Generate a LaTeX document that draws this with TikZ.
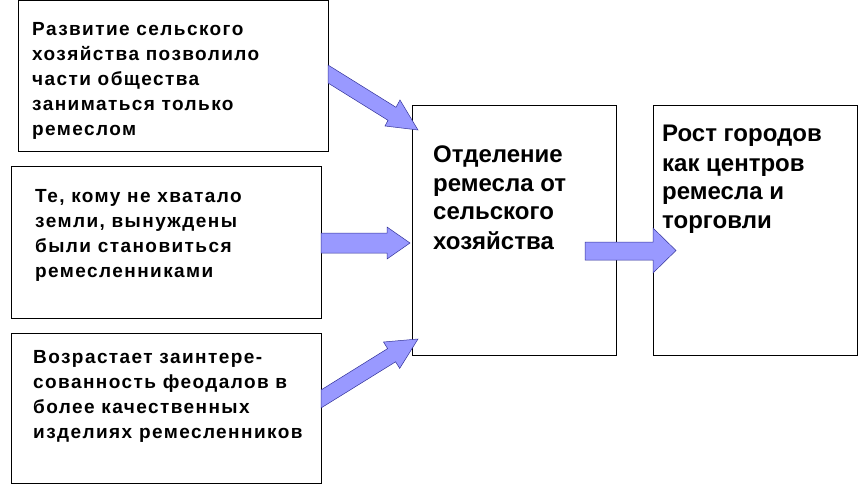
\documentclass[tikz,border=0pt]{standalone}
\usepackage{fontspec}
\setmainfont{Liberation Sans}
\newfontfamily\spacedfont[LetterSpace=7.5]{Liberation Sans}
\newcommand\tlines[1]{\vtop{\halign{##\hfil\cr#1\crcr}}}
\begin{document}
\begin{tikzpicture}[x=1pt,y=-1pt,
  boxst/.style={draw=black,line width=1pt,fill=white},
  arrowst/.style={fill=arrowfill,draw=arrowline,line width=0.5pt,line join=miter},
  smalltext/.style={anchor=base west,inner sep=0pt,font=\spacedfont\bfseries\fontsize{19}{25}\selectfont},
  bigtext/.style={anchor=base west,inner sep=0pt,font=\bfseries\fontsize{24}{29}\selectfont}]
\definecolor{arrowfill}{HTML}{9999FF}
\definecolor{arrowline}{HTML}{333399}
\useasboundingbox[fill=white] (0,0) rectangle (863,487);
% boxes
\draw[boxst] (18,1) rectangle (328,151) coordinate (b1);
\draw[boxst] (11,166) rectangle (321,318) coordinate (b2);
\draw[boxst] (11,333) rectangle (321,483) coordinate (b3);
\draw[boxst] (412,106) rectangle (616,355) coordinate (mid);
\draw[boxst] (653,106) rectangle (857,355) coordinate (right);
% arrows
\draw[arrowst] (328,65) -- (396,107.3) -- (400,100) -- (418,130) -- (385,126) -- (388,120.3) -- (328,83) -- cycle;
\draw[arrowst] (321,233) -- (387,233) -- (387,227) -- (410,243) -- (387,259) -- (387,253) -- (321,253) -- cycle;
\draw[arrowst] (321,390) -- (387.6,348.6) -- (383.5,342) -- (418,339) -- (399.7,368.4) -- (395.6,361.8) -- (321,408) -- cycle;
\draw[arrowst] (585,242) -- (653,242) -- (653,228) -- (676,250.5) -- (653,273) -- (653,260) -- (585,260) -- cycle;
% texts
\node[smalltext] (t1) at (32,36) {\tlines{Развитие сельского\cr хозяйства позволило\cr части общества\cr заниматься только\cr ремеслом}};
\node[smalltext] (t2) at (35,202) {\tlines{Те, кому не хватало\cr земли, вынуждены\cr были становиться\cr ремесленниками}};
\node[smalltext] (t3) at (33,363) {\tlines{Возрастает заинтере-\cr сованность феодалов в\cr более качественных\cr изделиях ремесленников}};
\node[bigtext] (tm) at (433,162) {\tlines{Отделение\cr ремесла от\cr сельского\cr хозяйства}};
\node[bigtext] (tr) at (662,142) {\tlines{Рост городов\cr как центров\cr ремесла и\cr торговли}};
\end{tikzpicture}
\end{document}
